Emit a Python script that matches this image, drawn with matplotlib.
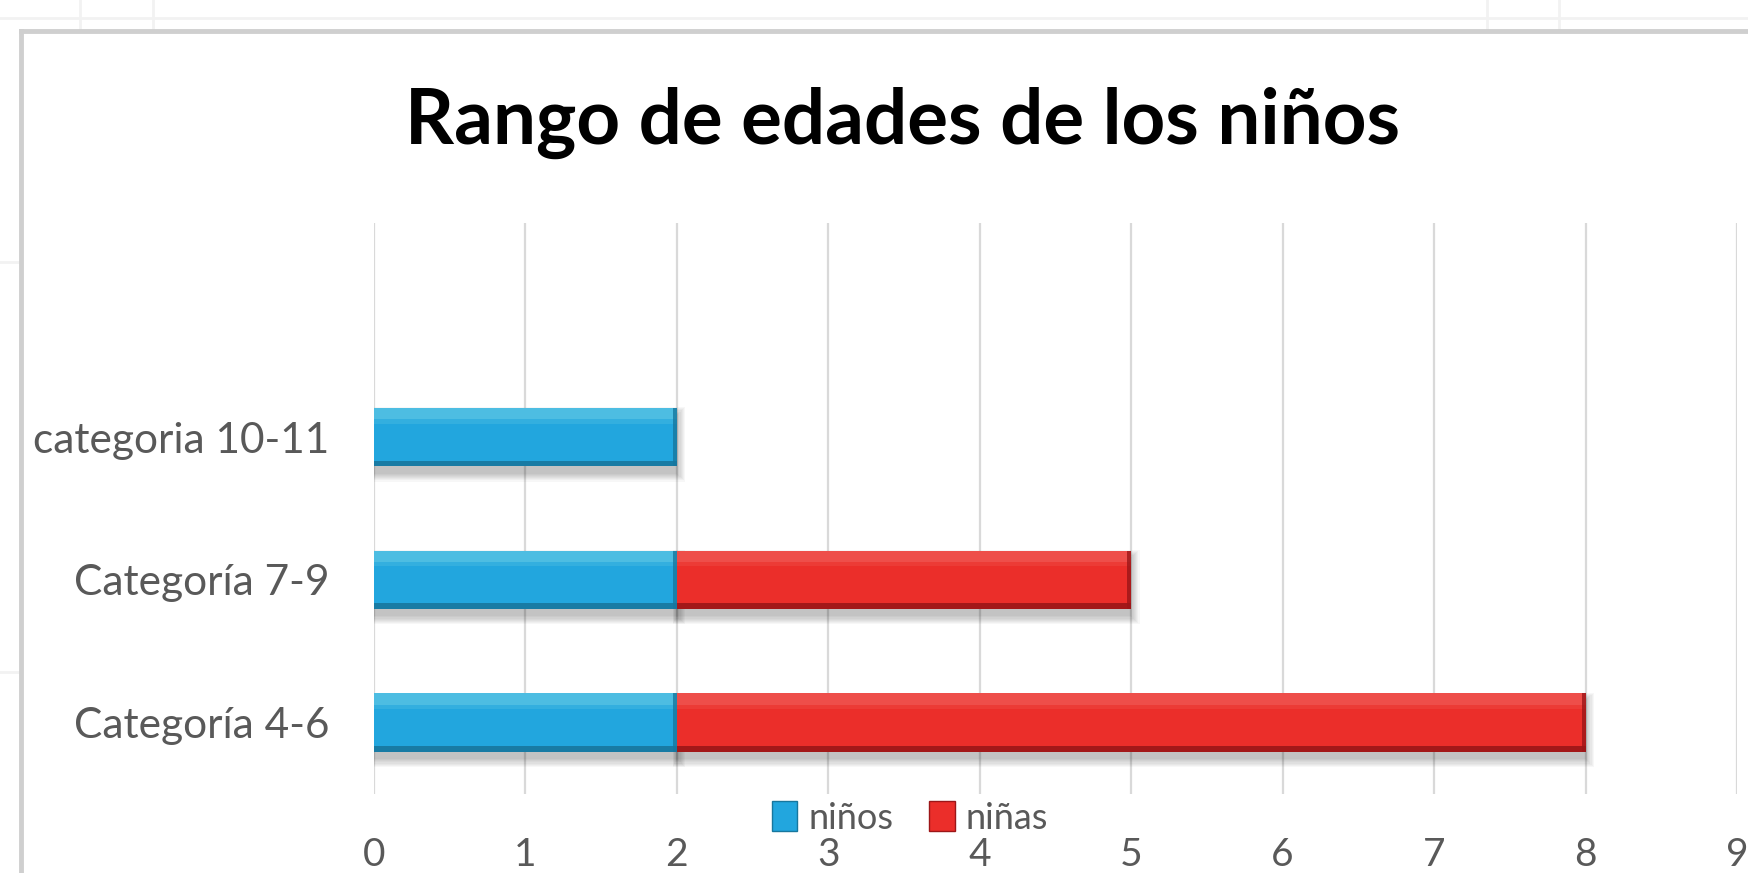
import matplotlib.pyplot as plt
from matplotlib.lines import Line2D
from matplotlib.patches import Patch

plt.rcParams['font.family'] = ['Lato', 'DejaVu Sans']

# data
categories = ['Categoría 4-6', 'Categoría 7-9', 'categoria 10-11']
ninos = [2, 2, 2]
ninas = [6, 3, 0]
series_names = ['niños', 'niñas']
x_ticks = [0, 1, 2, 3, 4, 5, 6, 7, 8, 9]

blue = '#22a6de'
blue_light = '#5cc6e4'
blue_dark = '#17779e'
red = '#eb2e2a'
red_light = '#f05a55'
red_dark = '#9c1618'
text_grey = '#595959'
grid_grey = '#d9d9d9'

W, H = 1749, 873
fig = plt.figure(figsize=(W / 100, H / 100), dpi=100)
fig.patch.set_facecolor('white')

# faint decoration outside the chart box
deco = '#f2f2f2'
fig.add_artist(Line2D([0, 1], [1 - 18 / H, 1 - 18 / H], color=deco, lw=2))
for px in [80, 153, 1487, 1559]:
    fig.add_artist(Line2D([px / W, px / W], [1, 1 - 30 / H], color=deco, lw=2))
for py in [262, 672]:
    fig.add_artist(Line2D([0, 20 / W], [1 - py / H, 1 - py / H], color=deco, lw=2))

# chart box border (runs off the right and bottom edges)
box = '#cfcfcf'
fig.add_artist(Line2D([21 / W, 21 / W], [1 - 31 / H, 0], color=box, lw=3.5))
fig.add_artist(Line2D([21 / W, 1], [1 - 31 / H, 1 - 31 / H], color=box, lw=3.5))

ax = fig.add_axes([374 / W, 1 - 794 / H, (1737 - 374) / W, (794 - 223) / H])
ax.set_facecolor('none')

bar_h = 0.41
y_pos = list(range(len(categories)))


def bevel_bar(y, left, width, base, light, dark):
    if width <= 0:
        return
    # soft shadow underneath
    for k in range(8):
        ax.barh(y - 0.05, width + k * 0.012, left=left - k * 0.004,
                height=bar_h + k * 0.016, color='black', alpha=0.03,
                zorder=2, linewidth=0)
    ax.barh(y, width, left=left, height=bar_h, color=base, zorder=3,
            linewidth=0)
    # lighter top, darker bottom and right edge
    ax.barh(y + bar_h / 2 - 0.04, width, left=left, height=0.08,
            color=light, alpha=0.75, zorder=4, linewidth=0)
    ax.barh(y + bar_h / 2 - 0.095, width, left=left, height=0.03,
            color=light, alpha=0.3, zorder=4, linewidth=0)
    ax.barh(y - bar_h / 2 + 0.02, width, left=left, height=0.04,
            color=dark, alpha=0.9, zorder=4, linewidth=0)
    ax.barh(y, 0.025, left=left + width - 0.025, height=bar_h,
            color=dark, alpha=0.8, zorder=4, linewidth=0)


for i in y_pos:
    bevel_bar(i, 0, ninos[i], blue, blue_light, blue_dark)
    bevel_bar(i, ninos[i], ninas[i], red, red_light, red_dark)

ax.set_xlim(0, 9)
ax.set_ylim(-0.5, 3.5)
ax.set_xticks(x_ticks)
ax.set_xticklabels([str(t) for t in x_ticks])
ax.set_yticks(y_pos)
ax.set_yticklabels(categories)
ax.grid(axis='x', color=grid_grey, lw=1.6, zorder=0)
ax.set_axisbelow(True)
for s in ax.spines.values():
    s.set_visible(False)
ax.tick_params(axis='both', length=0, colors=text_grey, labelsize=28)
ax.tick_params(axis='y', labelsize=30.5, pad=32)
ax.tick_params(axis='x', pad=31)

fig.text(903 / W, 1 - 123 / H, 'Rango de edades de los niños',
         ha='center', va='center', fontsize=55, fontweight='bold',
         color='black')

handles = [Patch(facecolor=blue, edgecolor=blue_dark),
           Patch(facecolor=red, edgecolor=red_dark)]
fig.legend(handles, series_names, loc='center', bbox_to_anchor=(910 / W, 1 - 818 / H),
           ncol=2, frameon=False, fontsize=26, handlelength=0.7,
           handleheight=0.9, handletextpad=0.3, columnspacing=1.0,
           labelcolor=text_grey, borderpad=0.1)

fig.savefig('out.png', dpi=100)
